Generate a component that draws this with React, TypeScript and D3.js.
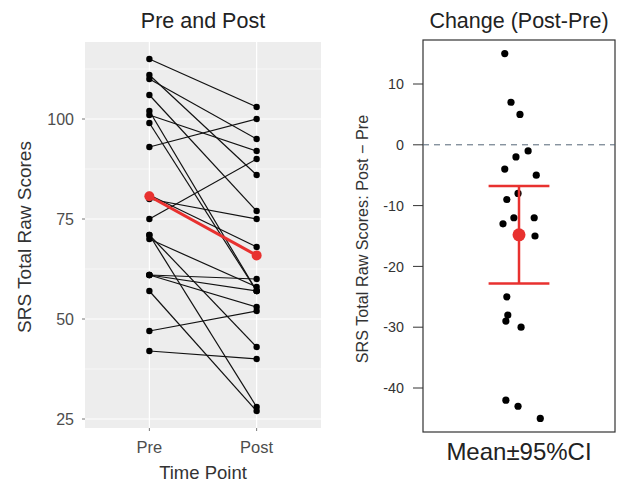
import React from 'react';
import * as d3 from 'd3';

// paired scores, one entry per subject
const preScores = [115, 111, 110, 106, 101, 102, 99, 93, 81, 80, 75, 71, 71, 70, 61, 61, 61, 57, 47, 42];
const postScores = [103, 86, 95, 77, 92, 57, 57, 100, 68, 75, 90, 43, 28, 58, 60, 57, 53, 27, 52, 40];
const timePoints = ['Pre', 'Post'];
const leftTicks = [25, 50, 75, 100];
const leftMinor = [37.5, 62.5, 87.5, 112.5];
const rightTicks = [10, 0, -10, -20, -30, -40];
// horizontal jitter of the change dots, largest change first (fraction of x range)
const jitter = [-0.089, -0.05, 0.006, 0.057, -0.019, -0.089, 0.108, -0.006, -0.076, -0.032,
    0.095, -0.1, 0.1, -0.076, -0.07, -0.082, 0.013, -0.082, -0.006, 0.133];

const FONT = '"Liberation Sans", Arial, sans-serif';
const RED = '#e8312f';

export default function App() {
    const W = 633, H = 484;

    // left panel
    const L = { x0: 85, x1: 321, y0: 42, y1: 428 };
    const xL = d3.scalePoint().domain(timePoints).range([L.x0, L.x1]).padding(0.6);
    const yL = d3.scaleLinear().domain([22.75, 119.25]).range([L.y1, L.y0]);

    // right panel
    const R = { x0: 423, x1: 615, y0: 40, y1: 432 };
    const xR = d3.scaleLinear().domain([-0.6, 0.6]).range([R.x0, R.x1]);
    const yR = d3.scaleLinear().domain([-40, 10]).range([388, 84]);

    const changes = preScores.map((p, i) => postScores[i] - p);
    const sorted = changes.slice().sort((a, b) => b - a);
    const n = changes.length;
    const mChange = d3.mean(changes) as number;
    const se = (d3.deviation(changes) as number) / Math.sqrt(n);
    const tcrit = 2.093;
    const lo = mChange - tcrit * se, hi = mChange + tcrit * se;
    const preMean = d3.mean(preScores) as number;
    const postMean = d3.mean(postScores) as number;

    const line = d3.line<[string, number]>().x(d => xL(d[0]) as number).y(d => yL(d[1]));

    return (
        <svg width={W} height={H} style={{ position: 'absolute', left: 0, top: 0, background: '#fff' }}
            fontFamily={FONT}>
            {/* left panel */}
            <text x={(L.x0 + L.x1) / 2} y={28} textAnchor="middle" fontSize={21.5} fill="#222">Pre and Post</text>
            <rect x={L.x0} y={L.y0} width={L.x1 - L.x0} height={L.y1 - L.y0} fill="#ededed" />
            {leftMinor.map(v => (
                <line key={'mn' + v} x1={L.x0} x2={L.x1} y1={yL(v)} y2={yL(v)} stroke="#fff" strokeWidth={0.6} />
            ))}
            {leftTicks.map(v => (
                <line key={'mj' + v} x1={L.x0} x2={L.x1} y1={yL(v)} y2={yL(v)} stroke="#fff" strokeWidth={1.2} />
            ))}
            {timePoints.map(t => (
                <line key={'v' + t} x1={xL(t)} x2={xL(t)} y1={L.y0} y2={L.y1} stroke="#fff" strokeWidth={1.2} />
            ))}
            {preScores.map((p, i) => (
                <path key={'l' + i} d={line([['Pre', p], ['Post', postScores[i]]]) as string}
                    stroke="#111" strokeWidth={1.2} fill="none" />
            ))}
            {preScores.map((p, i) => (
                <g key={'p' + i}>
                    <circle cx={xL('Pre')} cy={yL(p)} r={3.2} fill="#000" />
                    <circle cx={xL('Post')} cy={yL(postScores[i])} r={3.2} fill="#000" />
                </g>
            ))}
            <path d={line([['Pre', preMean], ['Post', postMean]]) as string} stroke={RED} strokeWidth={3} fill="none" />
            <circle cx={xL('Pre')} cy={yL(preMean)} r={5} fill={RED} />
            <circle cx={xL('Post')} cy={yL(postMean)} r={5} fill={RED} />

            {leftTicks.map(v => (
                <g key={'lt' + v}>
                    <line x1={L.x0 - 3} x2={L.x0} y1={yL(v)} y2={yL(v)} stroke="#777" />
                    <text x={L.x0 - 11} y={yL(v)} dy="0.36em" textAnchor="end" fontSize={16} fill="#4d4d4d">{v}</text>
                </g>
            ))}
            {timePoints.map(t => (
                <g key={'xt' + t}>
                    <line x1={xL(t)} x2={xL(t)} y1={L.y1} y2={L.y1 + 3} stroke="#777" />
                    <text x={xL(t)} y={L.y1 + 25} textAnchor="middle" fontSize={16.5} fill="#4d4d4d">{t}</text>
                </g>
            ))}
            <text x={(L.x0 + L.x1) / 2} y={479} textAnchor="middle" fontSize={18.5} fill="#333">Time Point</text>
            <text transform={`translate(31,${(L.y0 + L.y1) / 2 + 2}) rotate(-90)`} textAnchor="middle" fontSize={19} fill="#333">
                SRS Total Raw Scores
            </text>

            {/* right panel */}
            <text x={(R.x0 + R.x1) / 2} y={28} textAnchor="middle" fontSize={21.5} fill="#222">Change (Post-Pre)</text>
            <rect x={R.x0} y={R.y0} width={R.x1 - R.x0} height={R.y1 - R.y0} fill="#fff" stroke="#333" strokeWidth={1.2} />
            <line x1={R.x0} x2={R.x1} y1={yR(0)} y2={yR(0)} stroke="#556677" strokeWidth={1} strokeDasharray="6,5" />
            {sorted.map((c, i) => (
                <circle key={'c' + i} cx={xR(jitter[i])} cy={yR(c)} r={3.6} fill="#000" />
            ))}
            <line x1={xR(0)} x2={xR(0)} y1={yR(hi)} y2={yR(lo)} stroke={RED} strokeWidth={2.5} />
            <line x1={xR(-0.19)} x2={xR(0.19)} y1={yR(hi)} y2={yR(hi)} stroke={RED} strokeWidth={2.5} />
            <line x1={xR(-0.19)} x2={xR(0.19)} y1={yR(lo)} y2={yR(lo)} stroke={RED} strokeWidth={2.5} />
            <circle cx={xR(0)} cy={yR(mChange)} r={6.5} fill={RED} />
            {rightTicks.map(v => (
                <g key={'rt' + v}>
                    <line x1={R.x0 - 10} x2={R.x0} y1={yR(v)} y2={yR(v)} stroke="#333" />
                    <text x={R.x0 - 19} y={yR(v)} dy="0.36em" textAnchor="end" fontSize={14.3} fill="#333">{v}</text>
                </g>
            ))}
            <text x={(R.x0 + R.x1) / 2} y={460} textAnchor="middle" fontSize={24} fill="#222">Mean±95%CI</text>
            <text transform={`translate(368,${(R.y0 + R.y1) / 2 + 3}) rotate(-90)`} textAnchor="middle" fontSize={16.2} fill="#333">
                SRS Total Raw Scores: Post − Pre
            </text>
        </svg>
    );
}
